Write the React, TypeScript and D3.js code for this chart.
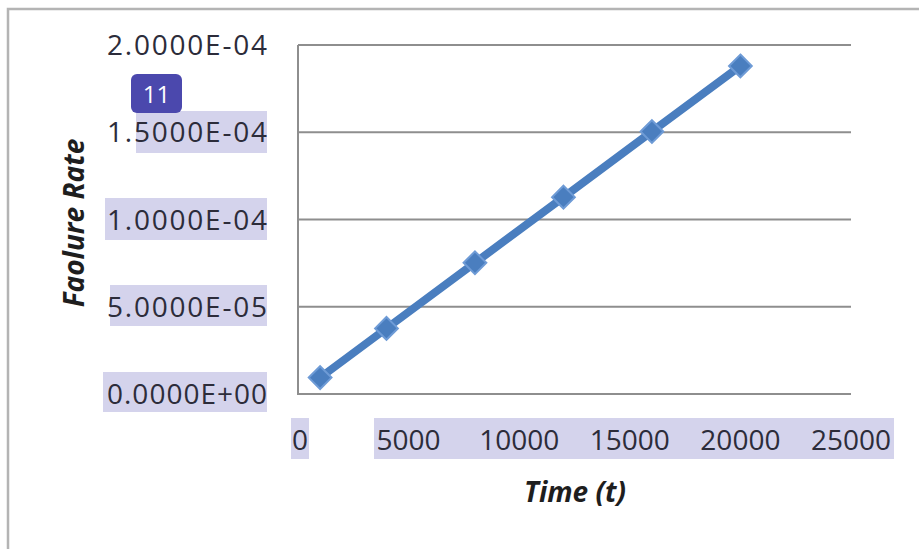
import React from "react";
import * as d3 from "d3";

const times = [1000, 4000, 8000, 12000, 16000, 20000];
const failureRates = [9.4e-6, 3.76e-5, 7.52e-5, 1.128e-4, 1.504e-4, 1.88e-4];
const xTicks = [0, 5000, 10000, 15000, 20000, 25000];
const yTicks = [0, 5e-5, 1e-4, 1.5e-4, 2e-4];
const yTickLabels = ["0.0000E+00", "5.0000E-05", "1.0000E-04", "1.5000E-04", "2.0000E-04"];
const xTitle = "Time (t)";
const yTitle = "Faolure Rate";

const W = 919;
const H = 549;
const plot = { left: 298, right: 851, top: 45, bottom: 394 };
const FONT = "'Open Sans', 'Liberation Sans', sans-serif";
const HL = "#d4d3ec";

export default function App() {
  const x = d3.scaleLinear().domain([0, 25000]).range([plot.left, plot.right]);
  const y = d3.scaleLinear().domain([0, 2e-4]).range([plot.bottom, plot.top]);
  const pts = times.map((t, i) => [t, failureRates[i]] as [number, number]);
  const line = d3.line<[number, number]>().x((d) => x(d[0])).y((d) => y(d[1]));
  const diamond = d3.symbol().type(d3.symbolDiamond2).size(330)();

  return (
    <svg
      width={W}
      height={H}
      style={{ position: "absolute", left: 0, top: 0, background: "#fff" }}
    >
      {/* outer chart frame */}
      <path d={`M8,${H + 5} V9 H${W + 5}`} fill="none" stroke="#b4b4b4" strokeWidth={2.5} />

      {/* annotation highlights */}
      <rect x={136} y={111} width={131} height={42} fill={HL} />
      <rect x={105} y={198} width={162} height={42} fill={HL} />
      <rect x={110} y={285} width={157} height={41} fill={HL} />
      <rect x={103} y={372} width={164} height={40} fill={HL} />
      <rect x={291} y={418} width={18} height={41} fill={HL} />
      <rect x={374} y={418} width={520} height={41} fill={HL} />

      {/* gridlines */}
      {yTicks.map((v, i) => (
        <line
          key={"g" + i}
          x1={plot.left}
          x2={plot.right}
          y1={y(v)}
          y2={y(v)}
          stroke="#8e8e8e"
          strokeWidth={2}
        />
      ))}
      <line x1={plot.left} x2={plot.left} y1={plot.top} y2={plot.bottom + 1} stroke="#8e8e8e" strokeWidth={2} />

      {/* y tick labels */}
      {yTicks.map((v, i) => (
        <text
          key={"yl" + i}
          x={267}
          y={y(v)}
          dy="0.36em"
          textAnchor="end"
          fontFamily={FONT}
          fontSize={28}
          fill="#2c2c3a"
          textLength={160}
          lengthAdjust="spacing"
        >
          {yTickLabels[i]}
        </text>
      ))}

      {/* x tick labels */}
      {xTicks.map((v, i) => (
        <text
          key={"xl" + i}
          x={x(v) + (i === 0 ? 2 : 0)}
          y={440}
          dy="0.36em"
          textAnchor="middle"
          fontFamily={FONT}
          fontSize={28}
          fill="#2c2c3a"
        >
          {String(v)}
        </text>
      ))}

      {/* series */}
      <path d={line(pts) || ""} fill="none" stroke="#4a7ebf" strokeWidth={8} strokeLinejoin="round" />
      {pts.map((p, i) => (
        <path
          key={"m" + i}
          d={diamond || ""}
          transform={`translate(${x(p[0])},${y(p[1])})`}
          fill="#4a7ebf"
          stroke="#6e9bd6"
          strokeWidth={2}
        />
      ))}

      {/* axis titles */}
      <text
        x={575}
        y={492}
        dy="0.36em"
        textAnchor="middle"
        fontFamily={FONT}
        fontSize={28}
        fontWeight="bold"
        fontStyle="italic"
        fill="#1e1e1e"
      >
        {xTitle}
      </text>
      <text
        transform={`translate(74,223) rotate(-90)`}
        dy="0.36em"
        textAnchor="middle"
        fontFamily={FONT}
        fontSize={28}
        fontWeight="bold"
        fontStyle="italic"
        fill="#1e1e1e"
      >
        {yTitle}
      </text>

      {/* annotation badge */}
      <rect x={131} y={74} width={51} height={39} rx={6} fill="#4b48ad" />
      <text
        x={156.5}
        y={94}
        dy="0.36em"
        textAnchor="middle"
        fontFamily={FONT}
        fontSize={24}
        fill="#fff"
      >
        11
      </text>
    </svg>
  );
}
